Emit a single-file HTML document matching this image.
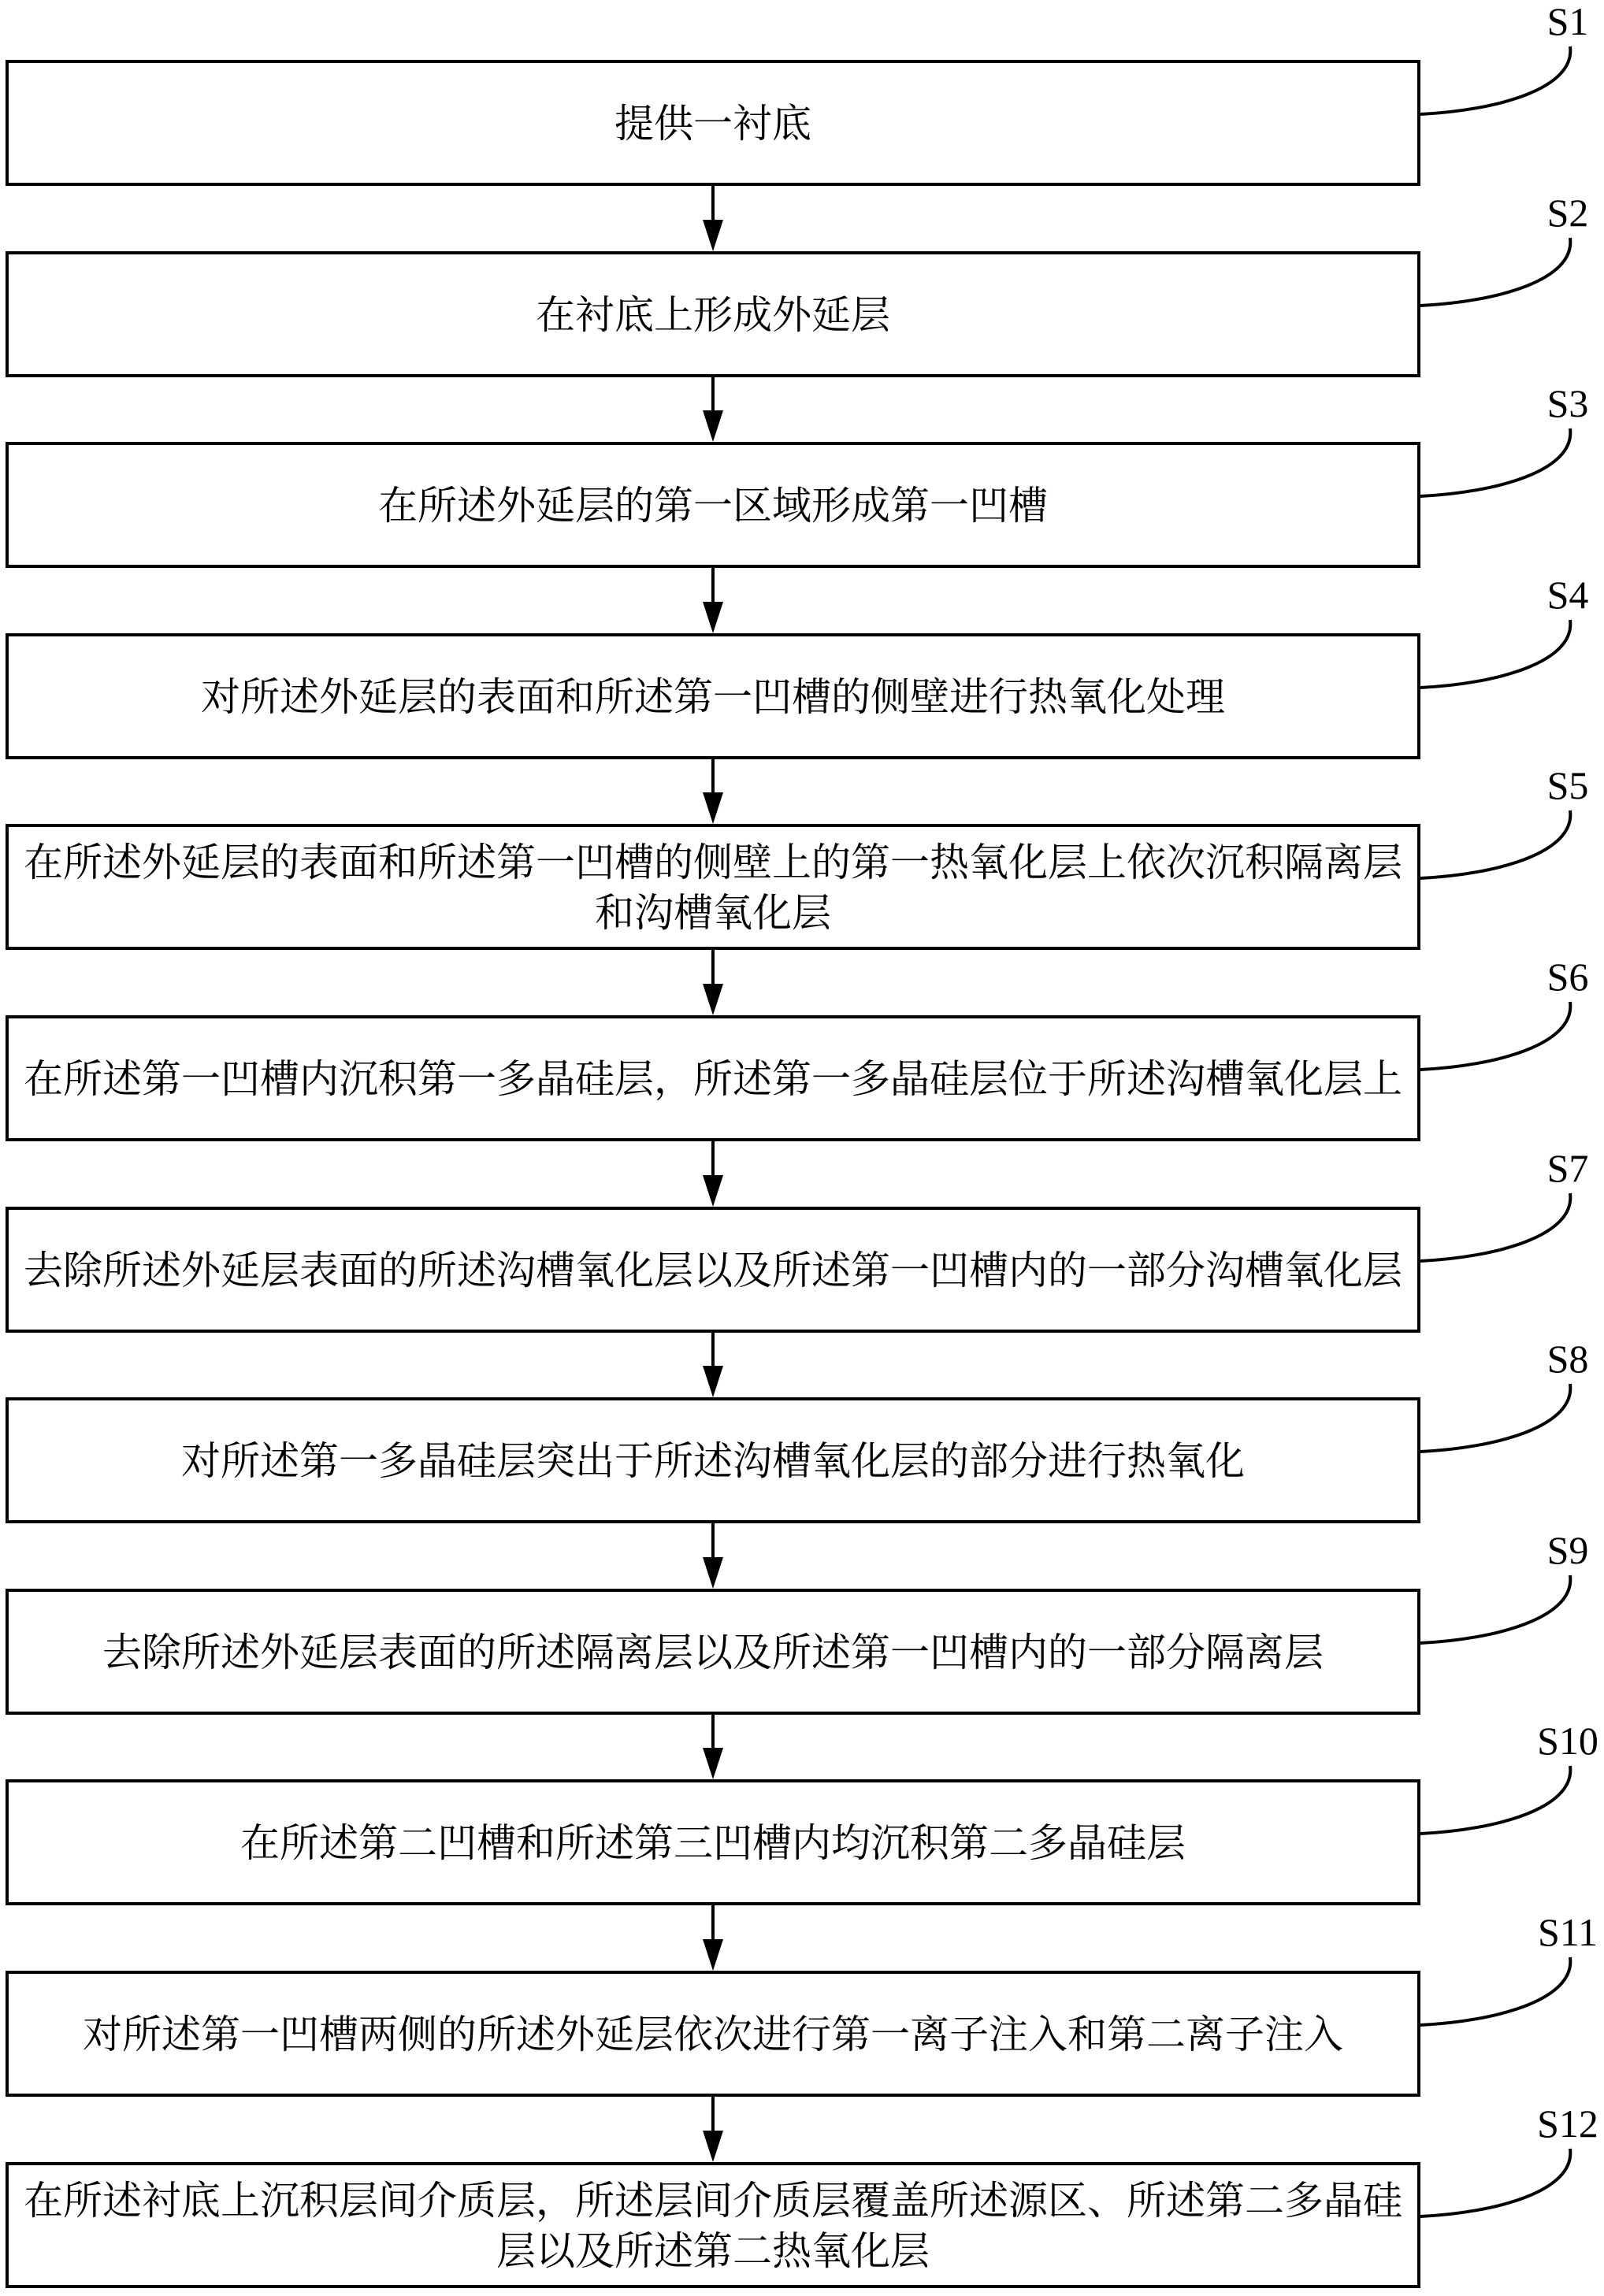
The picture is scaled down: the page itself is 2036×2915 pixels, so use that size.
<!DOCTYPE html>
<html><head><meta charset="utf-8"><style>
html,body{margin:0;padding:0;background:#fff;}
svg{display:block;}
.t{font-family:"Liberation Serif","Noto Serif CJK SC",serif;font-size:50px;fill:#000;}
.s{font-family:"Liberation Serif",serif;font-size:50px;fill:#000;}
</style></head><body>
<svg width="2036" height="2915" viewBox="0 0 2036 2915" xmlns="http://www.w3.org/2000/svg">
<g fill="none" stroke="#000" stroke-width="4">
<rect x="9" y="78" width="1792" height="156"/>
<rect x="9" y="321" width="1792" height="156"/>
<rect x="9" y="563" width="1792" height="156"/>
<rect x="9" y="806" width="1792" height="156"/>
<rect x="9" y="1048" width="1792" height="156"/>
<rect x="9" y="1291" width="1792" height="156"/>
<rect x="9" y="1534" width="1792" height="156"/>
<rect x="9" y="1776" width="1792" height="156"/>
<rect x="9" y="2019" width="1792" height="156"/>
<rect x="9" y="2261" width="1792" height="156"/>
<rect x="9" y="2504" width="1792" height="156"/>
<rect x="9" y="2747" width="1792" height="156"/>
<path d="M1803,145 C1900,140 2000,113 1993,59"/>
<path d="M1803,388 C1900,383 2000,356 1993,302"/>
<path d="M1803,630 C1900,625 2000,598 1993,544"/>
<path d="M1803,873 C1900,868 2000,841 1993,787"/>
<path d="M1803,1115 C1900,1110 2000,1083 1993,1029"/>
<path d="M1803,1358 C1900,1353 2000,1326 1993,1272"/>
<path d="M1803,1601 C1900,1596 2000,1569 1993,1515"/>
<path d="M1803,1843 C1900,1838 2000,1811 1993,1757"/>
<path d="M1803,2086 C1900,2081 2000,2054 1993,2000"/>
<path d="M1803,2328 C1900,2323 2000,2296 1993,2242"/>
<path d="M1803,2571 C1900,2566 2000,2539 1993,2485"/>
<path d="M1803,2814 C1900,2809 2000,2782 1993,2728"/>
<line x1="905" y1="236" x2="905" y2="281"/>
<line x1="905" y1="479" x2="905" y2="523"/>
<line x1="905" y1="721" x2="905" y2="766"/>
<line x1="905" y1="964" x2="905" y2="1008"/>
<line x1="905" y1="1206" x2="905" y2="1251"/>
<line x1="905" y1="1449" x2="905" y2="1494"/>
<line x1="905" y1="1692" x2="905" y2="1736"/>
<line x1="905" y1="1934" x2="905" y2="1979"/>
<line x1="905" y1="2177" x2="905" y2="2221"/>
<line x1="905" y1="2419" x2="905" y2="2464"/>
<line x1="905" y1="2662" x2="905" y2="2707"/>
</g>
<g fill="#000">
<path d="M892,279 L918,279 L905,319 Z"/>
<path d="M892,521 L918,521 L905,561 Z"/>
<path d="M892,764 L918,764 L905,804 Z"/>
<path d="M892,1006 L918,1006 L905,1046 Z"/>
<path d="M892,1249 L918,1249 L905,1289 Z"/>
<path d="M892,1492 L918,1492 L905,1532 Z"/>
<path d="M892,1734 L918,1734 L905,1774 Z"/>
<path d="M892,1977 L918,1977 L905,2017 Z"/>
<path d="M892,2219 L918,2219 L905,2259 Z"/>
<path d="M892,2462 L918,2462 L905,2502 Z"/>
<path d="M892,2705 L918,2705 L905,2745 Z"/>
</g>
<g text-anchor="middle">
<text class="s" x="1990" y="44">S1</text>
<text class="s" x="1990" y="287">S2</text>
<text class="s" x="1990" y="529">S3</text>
<text class="s" x="1990" y="772">S4</text>
<text class="s" x="1990" y="1014">S5</text>
<text class="s" x="1990" y="1257">S6</text>
<text class="s" x="1990" y="1500">S7</text>
<text class="s" x="1990" y="1742">S8</text>
<text class="s" x="1990" y="1985">S9</text>
<text class="s" x="1990" y="2227">S10</text>
<text class="s" x="1990" y="2470">S11</text>
<text class="s" x="1990" y="2713">S12</text>
</g>
<g text-anchor="middle">
<text class="t" x="905" y="174">提供一衬底</text>
<text class="t" x="905" y="417">在衬底上形成外延层</text>
<text class="t" x="905" y="659">在所述外延层的第一区域形成第一凹槽</text>
<text class="t" x="905" y="902">对所述外延层的表面和所述第一凹槽的侧壁进行热氧化处理</text>
<text class="t" x="905" y="1112">在所述外延层的表面和所述第一凹槽的侧壁上的第一热氧化层上依次沉积隔离层</text>
<text class="t" x="905" y="1176">和沟槽氧化层</text>
<text class="t" x="905" y="1387">在所述第一凹槽内沉积第一多晶硅层，所述第一多晶硅层位于所述沟槽氧化层上</text>
<text class="t" x="905" y="1630">去除所述外延层表面的所述沟槽氧化层以及所述第一凹槽内的一部分沟槽氧化层</text>
<text class="t" x="905" y="1872">对所述第一多晶硅层突出于所述沟槽氧化层的部分进行热氧化</text>
<text class="t" x="905" y="2115">去除所述外延层表面的所述隔离层以及所述第一凹槽内的一部分隔离层</text>
<text class="t" x="905" y="2357">在所述第二凹槽和所述第三凹槽内均沉积第二多晶硅层</text>
<text class="t" x="905" y="2600">对所述第一凹槽两侧的所述外延层依次进行第一离子注入和第二离子注入</text>
<text class="t" x="905" y="2811">在所述衬底上沉积层间介质层，所述层间介质层覆盖所述源区、所述第二多晶硅</text>
<text class="t" x="905" y="2875">层以及所述第二热氧化层</text>
</g>
</svg>
</body></html>
